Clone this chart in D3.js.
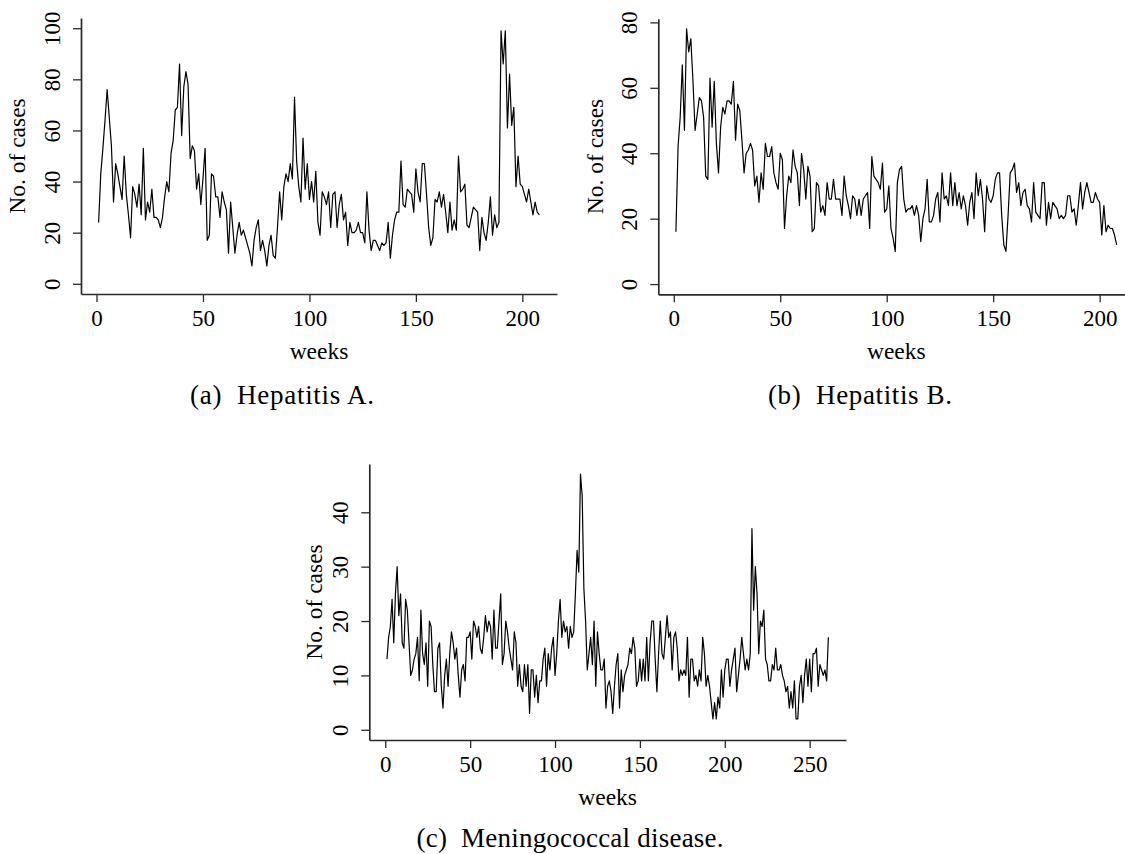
<!DOCTYPE html>
<html>
<head>
<meta charset="utf-8">
<script src="https://cdn.jsdelivr.net/npm/d3@7"></script>
<style>
  html, body { margin: 0; padding: 0; background: #fff; }
  svg { display: block; }
  svg text { font-family: "Liberation Serif", "Times New Roman", Times, serif; }
</style>
</head>
<body>
<svg id="fig" width="1125" height="854" font-family="Liberation Serif, serif"></svg>
<script>
// Weekly notified cases
const hepatitisA = [
  24,43,53,64,76,65,54,32,47,43, 38,33,50,35,27,18,38,35,30,39,
  27,53,25,32,28,37,26,26,25,22, 26,34,40,36,51,56,68,69,86,58,
  77,83,78,49,54,52,37,43,31,41, 53,17,19,43,42,34,34,26,36,32,
  29,12,32,22,12,19,24,19,21,18, 15,12,7,17,22,25,13,17,13,7,
  15,19,11,10,22,36,25,38,43,40, 47,41,73,48,38,32,57,37,47,33,
  40,32,44,24,19,36,34,31,36,22, 35,36,22,31,35,25,28,15,24,20,
  20,21,24,20,20,16,36,21,13,17, 17,15,13,16,15,16,24,10,19,25,
  28,28,48,31,30,37,36,35,28,45, 36,32,47,47,35,22,15,18,33,32,
  36,30,35,28,20,32,21,25,21,50, 36,37,39,23,22,26,30,29,28,13,
  26,20,17,24,34,19,27,22,24,99, 86,99,61,82,62,69,38,50,39,38,
  35,32,37,32,27,32,28,27
];

const hepatitisB = [
  16,42,51,67,47,78,71,75,62,47, 52,57,56,51,33,32,63,48,62,43,
  34,48,54,52,56,56,55,62,44,55, 53,44,34,40,41,43,41,30,33,25,
  34,29,43,39,39,42,34,31,29,40, 38,17,27,33,31,41,36,34,24,40,
  35,26,36,33,16,17,31,30,22,24, 21,31,26,26,32,26,26,26,21,33,
  27,24,
  20,27,26,21,26,21,26,27,28,17, 39,33,32,31,29,37,22,23,30,17,
  14,10,31,35,36,26,22,23,23,24, 21,24,21,13,20,23,32,19,19,21,
  26,28,19,34,26,27,24,34,24,31, 24,28,23,27,24,18,25,28,20,34,
  27,32,26,16,30,26,25,27,32,34, 34,21,12,10,21,34,35,37,28,31,
  24,28,29,24,23,19,31,22,21,20, 31,31,18,25,20,25,24,23,20,21,
  20,21,27,27,22,23,18,24,31,23, 28,31,28,25,25,28,26,25,15,24,
  16,18,17,17,15,12
];

const meningococcal = [
  13,17,19,24,16,25,30,21,25,16, 15,24,22,16,10,11,13,14,17,9,
  22,14,12,16,8,20,19,12,7,7, 15,16,8,4,10,13,8,14,18,16,
  13,15,10,6,11,12,9,17,17,18, 13,20,19,17,19,15,14,17,21,18,
  20,19,13,22,15,15,20,25,12,14, 20,18,15,13,11,18,16,8,12,8,
  7,12,8,12,3,11,11,6,10,5, 9,9,13,15,8,14,
  11,15,17,10,14,20,24,17,20,18, 19,15,19,17,18,25,33,29,47,43,
  26,20,11,14,17,12,20,8,18,14, 11,
  11,13,4,8,9,7,3,8,12,14, 4,11,7,10,11,12,15,14,17,15,
  8,9,13,9,13,9,17,9,16,20, 20,13,7,14,20,14,13,17,21,17,
  18,11,17,18,15,9,11,10,11,10, 17,6,13,13,9,10,8,11,9,17,
  14,8,10,8,5,2,5,2,6,4, 11,
  6,11,13,13,8,11,13,15,7,10, 13,17,14,11,13,11,14,37,22,30,
  25,14,20,19,22,13,12,9,9,12, 11,15,11,11,12,10,9,7,8,4,
  7,4,9,2,2,8,10,
  5,10,13,8,13,7,14,14,15,8, 12,11,10,11,9,17
];

// Axis ticks
const weekTicksAB = [0, 50, 100, 150, 200];
const weekTicksC = [0, 50, 100, 150, 200, 250];
const caseTicksA = [0, 20, 40, 60, 80, 100];
const caseTicksB = [0, 20, 40, 60, 80];
const caseTicksC = [0, 10, 20, 30, 40];

const captions = ["(a)  Hepatitis A.", "(b)  Hepatitis B.", "(c)  Meningococcal disease."];

const SERIF = "Liberation Serif, Times New Roman, serif";
const svg = d3.select("#fig");
const FONT = 23;

// R-style padded range: 4% on each side
function padded(lo, hi) {
  const e = (hi - lo) * 0.04;
  return [lo - e, hi + e];
}

function panel(opts) {
  const { values, left, top, width, height, yMax, xTicks, yTicks, ylabOffset } = opts;
  const n = values.length;
  const x = d3.scaleLinear().domain(padded(1, n)).range([left, left + width]);
  const y = d3.scaleLinear().domain(padded(0, yMax)).range([top + height, top]);
  const g = svg.append("g");

  // bottom axis
  const gx = g.append("g")
    .attr("transform", `translate(0,${top + height})`)
    .call(d3.axisBottom(x).tickValues(xTicks).tickSize(8).tickSizeOuter(0).tickFormat(d3.format("d")))
    .attr("font-family", SERIF);
  gx.select(".domain").attr("stroke", "#2a2a2a").attr("stroke-width", 1.7);
  gx.selectAll(".tick line").attr("stroke", "#2a2a2a").attr("stroke-width", 1.3);
  gx.selectAll(".tick text")
    .attr("y", 32).attr("dy", null)
    .attr("fill", "#000")
    .attr("font-family", SERIF)
    .attr("font-size", FONT);

  // left axis
  const gy = g.append("g")
    .attr("transform", `translate(${left},0)`)
    .call(d3.axisLeft(y).tickValues(yTicks).tickSize(8).tickSizeOuter(0).tickFormat(d3.format("d")))
    .attr("font-family", SERIF);
  gy.select(".domain").attr("stroke", "#2a2a2a").attr("stroke-width", 1.7);
  gy.selectAll(".tick line").attr("stroke", "#2a2a2a").attr("stroke-width", 1.3);
  gy.selectAll(".tick text")
    .attr("x", null).attr("dy", null)
    .attr("transform", "translate(-21,0) rotate(-90)")
    .attr("text-anchor", "middle")
    .attr("fill", "#000")
    .attr("font-family", SERIF)
    .attr("font-size", FONT);

  // series
  const line = d3.line()
    .x((d, i) => x(i + 1))
    .y(d => y(d));
  g.append("path")
    .datum(values)
    .attr("d", line)
    .attr("fill", "none")
    .attr("stroke", "#000")
    .attr("stroke-width", 1.2)
    .attr("stroke-linejoin", "round");

  // axis titles
  g.append("text")
    .attr("x", left + width / 2)
    .attr("y", top + height + 65)
    .attr("text-anchor", "middle")
    .attr("font-family", SERIF)
    .attr("font-size", FONT + 0.5)
    .text("weeks");
  g.append("text")
    .attr("transform", `translate(${left - ylabOffset},${top + height / 2}) rotate(-90)`)
    .attr("text-anchor", "middle")
    .attr("font-family", SERIF)
    .attr("font-size", FONT + 0.5)
    .text("No. of cases");
  return { x, y };
}

panel({ values: hepatitisA, left: 81, top: 18, width: 476, height: 276, yMax: 100,
        xTicks: weekTicksAB, yTicks: caseTicksA, ylabOffset: 56 });
panel({ values: hepatitisB, left: 658.3, top: 18.7, width: 476, height: 275.6, yMax: 78,
        xTicks: weekTicksAB, yTicks: caseTicksB, ylabOffset: 55 });
panel({ values: meningococcal, left: 369.3, top: 464, width: 476.7, height: 276, yMax: 47,
        xTicks: weekTicksC, yTicks: caseTicksC, ylabOffset: 47 });

// sub-figure captions
const capPos = [
  { cx: 282, y: 404, w: 184 },
  { cx: 860, y: 404, w: 184 },
  { cx: 570, y: 847, w: 307 }
];
captions.forEach((t, i) => {
  svg.append("text")
    .attr("x", capPos[i].cx)
    .attr("y", capPos[i].y)
    .attr("text-anchor", "middle")
    .attr("xml:space", "preserve")
    .attr("textLength", capPos[i].w)
    .attr("lengthAdjust", "spacing")
    .attr("font-family", SERIF)
    .attr("font-size", 27)
    .style("white-space", "pre")
    .text(t);
});
</script>
</body>
</html>
